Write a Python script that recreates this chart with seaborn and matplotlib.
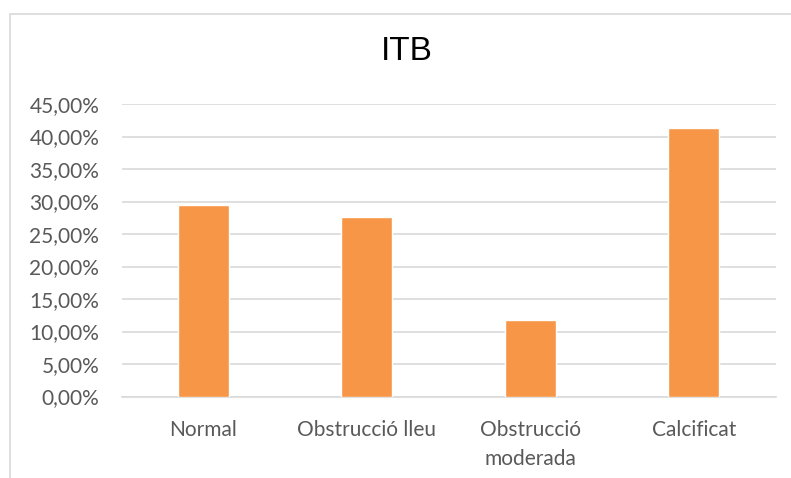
import matplotlib
matplotlib.use("Agg")
import matplotlib.pyplot as plt
from matplotlib.patches import Rectangle
from matplotlib.ticker import FuncFormatter
import seaborn as sns
import pandas as pd

# ITB categories and their share of patients
categories = ["Normal", "Obstrucció lleu", "Obstrucció\nmoderada", "Calcificat"]
shares = [0.294, 0.276, 0.117, 0.4125]
y_ticks = [0.00, 0.05, 0.10, 0.15, 0.20, 0.25, 0.30, 0.35, 0.40, 0.45]

df = pd.DataFrame({"categoria": categories, "percentatge": shares})

sns.set_theme(style="white")
plt.rcParams["font.family"] = ["Lato", "DejaVu Sans"]

W, H = 791, 478
fig = plt.figure(figsize=(W / 100, H / 100), dpi=100)
fig.patch.set_facecolor("white")

# chart frame (light gray border)
fig.patches.append(Rectangle((9.5 / W, -0.1), 1.2, 1 - 13.5 / H + 0.1,
                             transform=fig.transFigure, fill=False,
                             edgecolor="#D9D9D9", linewidth=1.2))

left, right, bottom, top = 121.5, 775.5, 396.5, 104
ax = fig.add_axes([left / W, 1 - bottom / H, (right - left) / W, (bottom - top) / H])

sns.barplot(data=df, x="categoria", y="percentatge", color="#F79646",
            saturation=1, width=0.31, ax=ax, zorder=3)

ax.set_ylim(0, 0.45)
ax.set_yticks(y_ticks)
ax.yaxis.set_major_formatter(FuncFormatter(lambda v, p: f"{v * 100:.2f}%".replace(".", ",")))
ax.grid(axis="y", color="#D9D9D9", linewidth=1.2, zorder=0)
ax.grid(axis="x", visible=False)
for s in ["top", "right", "left"]:
    ax.spines[s].set_visible(False)
ax.spines["bottom"].set_color("#D9D9D9")
ax.spines["bottom"].set_linewidth(1.2)
ax.set_xlabel("")
ax.set_ylabel("")
ax.tick_params(axis="both", length=0, labelsize=15, colors="#595959")
ax.tick_params(axis="y", pad=16)
ax.tick_params(axis="x", pad=17)
for lbl in ax.get_xticklabels():
    lbl.set_linespacing(1.55)

fig.text(407 / W, 1 - 52 / H, "ITB", ha="center", va="center",
         fontsize=24, color="black", family=["Liberation Sans", "DejaVu Sans"])

fig.savefig("out.png", dpi=100)
